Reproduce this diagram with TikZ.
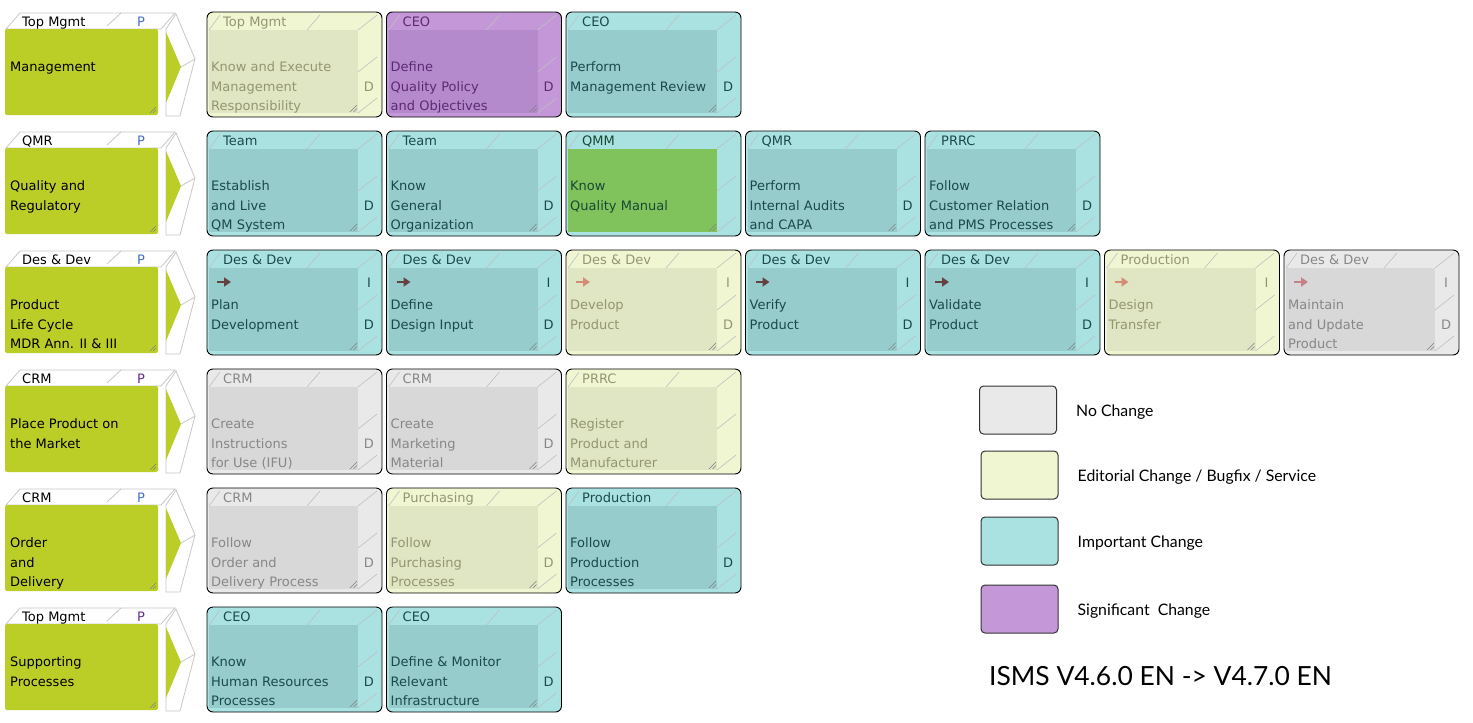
\documentclass[tikz,border=0pt]{standalone}
\usepackage{fontspec}
\setmainfont{DejaVu Sans}
\newfontfamily\legendfont{Lato}
\usetikzlibrary{arrows.meta,positioning}

% change categories: out = frame face, in = front face, txt = text, arr = arrow
\definecolor{procgreen}{RGB}{187,206,39}
\definecolor{impout}{RGB}{170,226,226}
\definecolor{impin}{RGB}{150,204,204}
\definecolor{imptxt}{RGB}{28,74,74}
\definecolor{imparr}{RGB}{100,66,66}
\definecolor{ediout}{RGB}{240,245,210}
\definecolor{ediin}{RGB}{224,229,196}
\definecolor{editxt}{RGB}{148,150,112}
\definecolor{ediarr}{RGB}{212,140,116}
\definecolor{nonout}{RGB}{233,233,233}
\definecolor{nonin}{RGB}{216,216,216}
\definecolor{nontxt}{RGB}{135,135,135}
\definecolor{nonarr}{RGB}{198,128,134}
\definecolor{sigout}{RGB}{196,152,216}
\definecolor{sigin}{RGB}{180,138,204}
\definecolor{sigtxt}{RGB}{92,42,116}
\colorlet{sigarr}{sigtxt}
\colorlet{qmmout}{impout}
\definecolor{qmmin}{RGB}{128,195,92}
\definecolor{qmmtxt}{RGB}{24,72,52}
\colorlet{qmmarr}{imparr}
\definecolor{pblue}{RGB}{70,110,200}
\definecolor{ppurple}{RGB}{100,45,150}

\tikzset{
  boxout/.style={draw=black, line width=0.9pt, rounded corners=6pt},
  slash/.style={draw=white!50!gray, line width=0.6pt},
  grip/.style={draw=gray, line width=0.6pt},
  tabline/.style={draw=black!22, line width=0.8pt},
  roletext/.style={anchor=base west, inner sep=0pt},
  bodytext/.style={anchor=north west, inner sep=0pt, align=left},
  sidetext/.style={anchor=base, inner sep=0pt},
  flowarrow/.style={line width=2.6pt, -{Triangle[length=7pt,width=9pt]}},
  legbox/.style={draw=black!80, line width=1pt, rounded corners=4pt, minimum width=77pt, minimum height=48pt},
  legtext/.style={font=\legendfont\fontsize{15.8}{19}\selectfont, inner sep=0pt, right=19pt of #1, yshift=-2pt}
}

% activity: name, x, y, category, role, text, I, D
\newcommand{\actbox}[8]{%
  \begin{scope}[shift={(#2,#3)}]
    \draw[boxout, fill=#4out] (0,0) rectangle (175,105);
    \fill[#4in] (2,18) rectangle (151,101);
    \draw[slash] (2,18) -- (13,3) (100,18) -- (113,3) (151,18) -- (170,3)
      (151,60) -- (170,45) (151,101) -- (170,86);
    \draw[grip] (143,100) -- (150,93) (146.5,100) -- (150,96.5);
    \node[roletext, text=#4txt] (#1-role) at (16,14) {#5};
    \node[bodytext, text=#4txt] (#1) at (4,46) {\strut#6};
    \ifx\relax#7\relax\else
      \draw[flowarrow, #4arr] (10,32) -- (24,32);
      \node[sidetext, text=#4txt] (#1-i) at (162,37) {#7};
    \fi
    \ifx\relax#8\relax\else
      \node[sidetext, text=#4txt] (#1-d) at (162,79) {#8};
    \fi
  \end{scope}}

% process: name, y, role, colour of P, text
\newcommand{\procbox}[5]{%
  \begin{scope}[shift={(0,#2)}]
    \draw[tabline, fill=white] (6,17) -- (20,1) -- (175,1) -- (161,17) -- cycle;
    \draw[tabline] (107,14) -- (121,1);
    \draw[tabline, fill=white] (166,17) -- (176,2) -- (195,47) -- (180,104) -- (166,104) -- cycle;
    \draw[tabline] (181,55) -- (195,47);
    \fill[procgreen, rounded corners=2pt] (5,17) rectangle (158,103);
    \fill[procgreen] (166,20) -- (181,55) -- (166,91) -- cycle;
    \draw[grip] (150,101) -- (156,95) (153,101) -- (156,98);
    \node[roletext] (#1-role) at (22,14) {#3};
    \node[sidetext, text=#4] (#1-p) at (141,14) {P};
    \node[bodytext] (#1) at (10,46) {\strut#5};
  \end{scope}}

\begin{document}
\begin{tikzpicture}[x=1pt,y=-1pt,font=\fontsize{13}{19.5}\selectfont]
\useasboundingbox (0,0) rectangle (1473,723);

% Management
\procbox{pmgmt}{12}{Top Mgmt}{pblue}{Management}
\actbox{mgmt1}{207}{12}{edi}{Top Mgmt}{Know and Execute\\Management\\Responsibility}{}{D}
\actbox{mgmt2}{386.5}{12}{sig}{CEO}{Define\\Quality Policy\\and Objectives}{}{D}
\actbox{mgmt3}{566}{12}{imp}{CEO}{Perform\\Management Review}{}{D}

% Quality and Regulatory
\procbox{pqr}{131}{QMR}{pblue}{Quality and\\Regulatory}
\actbox{qr1}{207}{131}{imp}{Team}{Establish\\and Live\\QM System}{}{D}
\actbox{qr2}{386.5}{131}{imp}{Team}{Know\\General\\Organization}{}{D}
\actbox{qr3}{566}{131}{qmm}{QMM}{Know\\Quality Manual}{}{}
\actbox{qr4}{745.5}{131}{imp}{QMR}{Perform\\Internal Audits\\and CAPA}{}{D}
\actbox{qr5}{925}{131}{imp}{PRRC}{Follow\\Customer Relation\\and PMS Processes}{}{D}

% Product Life Cycle
\procbox{plc}{250}{Des \& Dev}{pblue}{Product\\Life Cycle\\MDR Ann. II \& III}
\actbox{plc1}{207}{250}{imp}{Des \& Dev}{Plan\\Development}{I}{D}
\actbox{plc2}{386.5}{250}{imp}{Des \& Dev}{Define\\Design Input}{I}{D}
\actbox{plc3}{566}{250}{edi}{Des \& Dev}{Develop\\Product}{I}{D}
\actbox{plc4}{745.5}{250}{imp}{Des \& Dev}{Verify\\Product}{I}{D}
\actbox{plc5}{925}{250}{imp}{Des \& Dev}{Validate\\Product}{I}{D}
\actbox{plc6}{1104.5}{250}{edi}{Production}{Design\\Transfer}{I}{}
\actbox{plc7}{1284}{250}{non}{Des \& Dev}{Maintain\\and Update\\Product}{I}{D}

% Place Product on the Market
\procbox{pmkt}{369}{CRM}{ppurple}{Place Product on\\the Market}
\actbox{mkt1}{207}{369}{non}{CRM}{Create\\Instructions\\for Use (IFU)}{}{D}
\actbox{mkt2}{386.5}{369}{non}{CRM}{Create\\Marketing\\Material}{}{D}
\actbox{mkt3}{566}{369}{edi}{PRRC}{Register\\Product and\\Manufacturer}{}{}

% Order and Delivery
\procbox{pord}{488}{CRM}{pblue}{Order\\and\\Delivery}
\actbox{ord1}{207}{488}{non}{CRM}{Follow\\Order and\\Delivery Process}{}{D}
\actbox{ord2}{386.5}{488}{edi}{Purchasing}{Follow\\Purchasing\\Processes}{}{D}
\actbox{ord3}{566}{488}{imp}{Production}{Follow\\Production\\Processes}{}{D}

% Supporting Processes
\procbox{psup}{607}{Top Mgmt}{ppurple}{Supporting\\Processes}
\actbox{sup1}{207}{607}{imp}{CEO}{Know\\Human Resources\\Processes}{}{D}
\actbox{sup2}{386.5}{607}{imp}{CEO}{Define \& Monitor\\Relevant\\Infrastructure}{}{D}

% Legend
\node[legbox, fill=nonout] (lgnon) at (1018,410) {};
\node[legbox, fill=ediout] (lgedi) at (1019.5,475) {};
\node[legbox, fill=impout] (lgimp) at (1019.5,541) {};
\node[legbox, fill=sigout] (lgsig) at (1019.5,609) {};
\node[legtext=lgnon] (tnon) {No Change};
\node[legtext=lgedi] (tedi) {Editorial Change / Bugfix / Service};
\node[legtext=lgimp] (timp) {Important Change};
\node[legtext=lgsig] (tsig) {Significant\ \ Change};

% Version
\node[font=\legendfont\fontsize{26.4}{32}\selectfont, anchor=west, inner sep=0pt] (version) at (989,676) {ISMS V4.6.0 EN -> V4.7.0 EN};

\end{tikzpicture}
\end{document}
